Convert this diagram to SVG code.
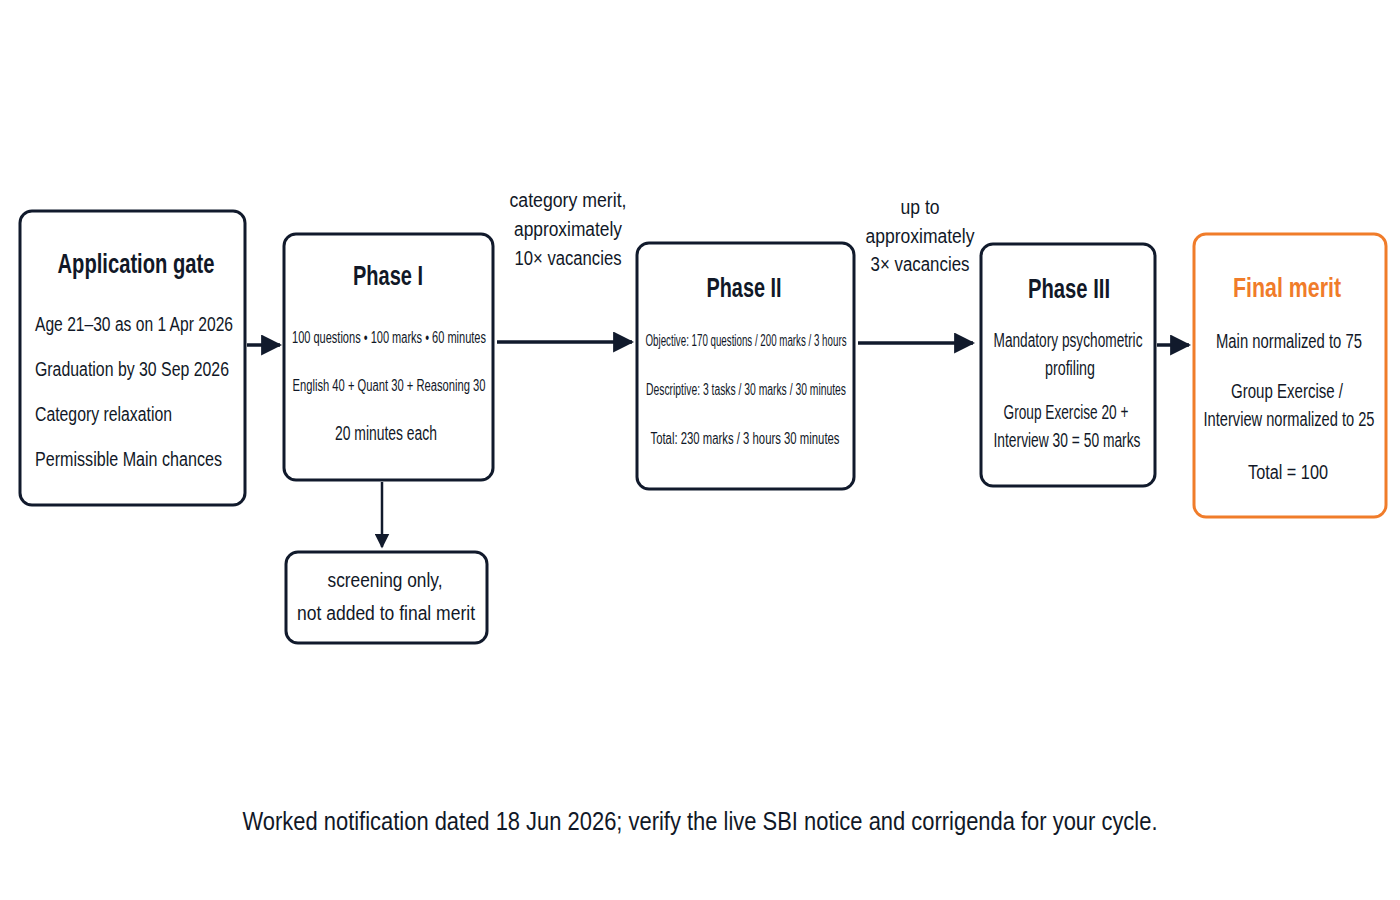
<svg xmlns="http://www.w3.org/2000/svg" width="1400" height="900" viewBox="0 0 1400 900">
<style>
text{font-family:"Liberation Sans",Arial,sans-serif;fill:#111827;text-anchor:middle}
text.l{text-anchor:start}
.box{fill:#fff;stroke:#111a2c;stroke-width:3}
.t{font-size:28px;font-weight:bold}
.b{font-size:20px}
.s{font-size:16px}
.c{stroke:#111a2c;stroke-width:3.5;fill:none;marker-end:url(#a)}
</style>
<defs><marker id="a" viewBox="0 0 10 10" refX="9" refY="5" markerWidth="6" markerHeight="6" orient="auto"><path d="M0,0L10,5L0,10z" fill="#111a2c"/></marker></defs>
<rect width="1400" height="900" fill="#fff"/>
<g id="connectors">
<line class="c" x1="247" y1="345" x2="280" y2="345"/>
<line class="c" x1="497" y1="342" x2="632" y2="342"/>
<line class="c" x1="858" y1="343" x2="973" y2="343"/>
<line class="c" x1="1157" y1="345" x2="1189" y2="345"/>
<line class="c" x1="382" y1="482" x2="382" y2="547" style="stroke-width:2.5"/>
<text class="b" x="568" y="207" textLength="117" lengthAdjust="spacingAndGlyphs">category merit,</text>
<text class="b" x="568" y="236" textLength="108" lengthAdjust="spacingAndGlyphs">approximately</text>
<text class="b" x="568" y="265" textLength="107" lengthAdjust="spacingAndGlyphs">10× vacancies</text>
<text class="b" x="920" y="214" textLength="39" lengthAdjust="spacingAndGlyphs">up to</text>
<text class="b" x="920" y="243" textLength="109" lengthAdjust="spacingAndGlyphs">approximately</text>
<text class="b" x="920" y="271" textLength="99" lengthAdjust="spacingAndGlyphs">3× vacancies</text>
</g>
<g id="app"><rect class="box" x="20" y="211" width="225" height="294" rx="12"/>
<text class="t" x="136" y="273" textLength="157" lengthAdjust="spacingAndGlyphs">Application gate</text>
<text class="b l" x="35" y="331" textLength="198" lengthAdjust="spacingAndGlyphs">Age 21–30 as on 1 Apr 2026</text>
<text class="b l" x="35" y="376" textLength="194" lengthAdjust="spacingAndGlyphs">Graduation by 30 Sep 2026</text>
<text class="b l" x="35" y="421" textLength="137" lengthAdjust="spacingAndGlyphs">Category relaxation</text>
<text class="b l" x="35" y="466" textLength="187" lengthAdjust="spacingAndGlyphs">Permissible Main chances</text></g>
<g id="p1"><rect class="box" x="284" y="234" width="209" height="246" rx="12"/>
<text class="t" x="388" y="285" textLength="70" lengthAdjust="spacingAndGlyphs">Phase I</text>
<text class="s" x="389" y="343" textLength="194" lengthAdjust="spacingAndGlyphs">100 questions • 100 marks • 60 minutes</text>
<text class="s" x="389" y="391" textLength="193" lengthAdjust="spacingAndGlyphs">English 40 + Quant 30 + Reasoning 30</text>
<text class="b" x="386" y="440" textLength="102" lengthAdjust="spacingAndGlyphs">20 minutes each</text></g>
<g id="scr"><rect class="box" x="286" y="552" width="201" height="91" rx="12"/>
<text class="b" x="385" y="587" textLength="115" lengthAdjust="spacingAndGlyphs">screening only,</text>
<text class="b" x="386" y="620" textLength="178" lengthAdjust="spacingAndGlyphs">not added to final merit</text></g>
<g id="p2"><rect class="box" x="637" y="243" width="217" height="246" rx="12"/>
<text class="t" x="744" y="297" textLength="75" lengthAdjust="spacingAndGlyphs">Phase II</text>
<text class="s" x="746" y="346" textLength="201" lengthAdjust="spacingAndGlyphs">Objective: 170 questions / 200 marks / 3 hours</text>
<text class="s" x="746" y="395" textLength="200" lengthAdjust="spacingAndGlyphs">Descriptive: 3 tasks / 30 marks / 30 minutes</text>
<text class="s" x="745" y="444" textLength="189" lengthAdjust="spacingAndGlyphs">Total: 230 marks / 3 hours 30 minutes</text></g>
<g id="p3"><rect class="box" x="981" y="244" width="174" height="242" rx="12"/>
<text class="t" x="1069" y="298" textLength="82" lengthAdjust="spacingAndGlyphs">Phase III</text>
<text class="b" x="1068" y="347" textLength="149" lengthAdjust="spacingAndGlyphs">Mandatory psychometric</text>
<text class="b" x="1070" y="375" textLength="50" lengthAdjust="spacingAndGlyphs">profiling</text>
<text class="b" x="1066" y="419" textLength="125" lengthAdjust="spacingAndGlyphs">Group Exercise 20 +</text>
<text class="b" x="1067" y="447" textLength="147" lengthAdjust="spacingAndGlyphs">Interview 30 = 50 marks</text></g>
<g id="fm"><rect class="box" x="1194" y="234" width="192" height="283" rx="12" style="stroke:#f07c2a"/>
<text class="t" x="1287" y="297" textLength="108" lengthAdjust="spacingAndGlyphs" style="fill:#f07c2a">Final merit</text>
<text class="b" x="1289" y="348" textLength="146" lengthAdjust="spacingAndGlyphs">Main normalized to 75</text>
<text class="b" x="1287" y="398" textLength="112" lengthAdjust="spacingAndGlyphs">Group Exercise /</text>
<text class="b" x="1289" y="426" textLength="171" lengthAdjust="spacingAndGlyphs">Interview normalized to 25</text>
<text class="b" x="1288" y="479" textLength="80" lengthAdjust="spacingAndGlyphs">Total = 100</text></g>
<text x="700" y="830" style="font-size:25px" textLength="915" lengthAdjust="spacingAndGlyphs">Worked notification dated 18 Jun 2026; verify the live SBI notice and corrigenda for your cycle.</text>
</svg>
